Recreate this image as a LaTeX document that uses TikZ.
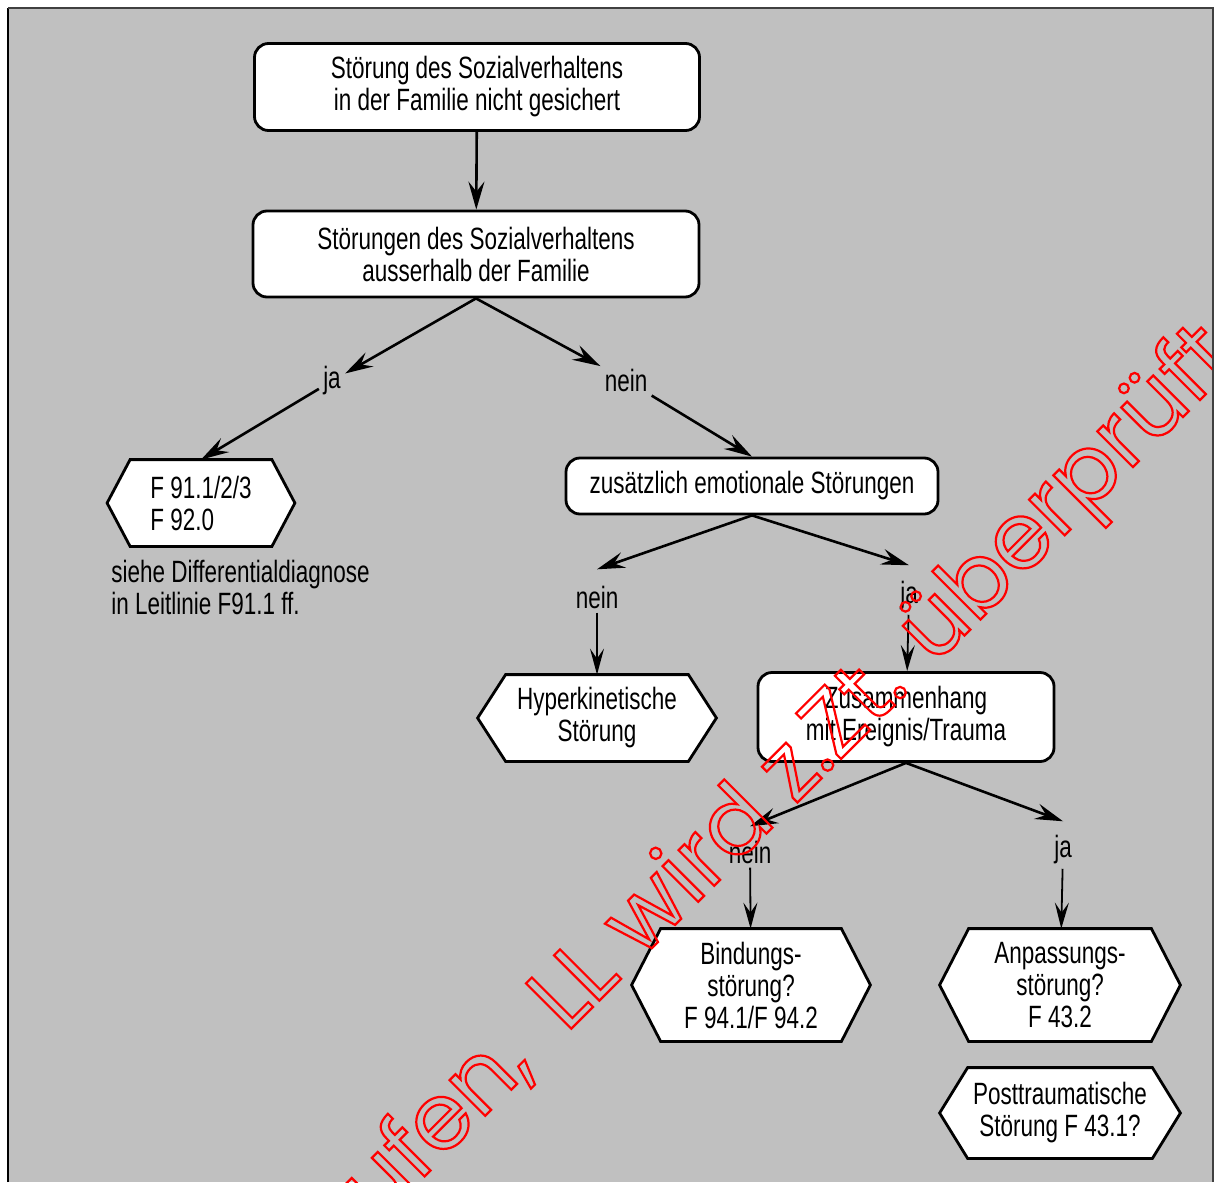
\documentclass[tikz,border=0pt]{standalone}
\usepackage{fontspec}
\setmainfont[FakeStretch=0.73]{Liberation Sans}
\newfontfamily\wmfont{Poppins}
\usetikzlibrary{arrows.meta}
\pgfdeclarelayer{bg}
\pgfdeclarelayer{shapes}
\pgfsetlayers{bg,shapes,main}
\definecolor{bggrey}{RGB}{192,192,192}
\newcommand\outl[1]{\special{pdf:literal direct 1 Tr 1.1 w}#1\special{pdf:literal direct 0 Tr}}
\newcommand\hexoutline[2]{%
  \begin{pgfonlayer}{shapes}
    \filldraw[hexline] (#1.west) -- ([xshift=#2]#1.north west) -- ([xshift=-#2]#1.north east)
      -- (#1.east) -- ([xshift=-#2]#1.south east) -- ([xshift=#2]#1.south west) -- cycle;
  \end{pgfonlayer}}
\begin{document}
\begin{tikzpicture}[x=0.5pt,y=-0.5pt,
  every node/.style={font=\fontsize{15.4pt}{16pt}\selectfont},
  box/.style={draw, line width=1.4pt, fill=white, rounded corners=7pt, align=center, inner sep=0pt},
  hexn/.style={inner sep=0pt, align=center},
  hexline/.style={draw=black, fill=white, line width=1.4pt, line join=miter},
  lbl/.style={inner sep=2pt},
  arr/.style={line width=1.3pt, -{Stealth[length=14pt,width=8pt,inset=5pt]}},
  arrthin/.style={line width=0.9pt, -{Stealth[length=13pt,width=7pt,inset=5pt]}},
  wm/.style={font=\wmfont\fontsize{46pt}{50pt}\selectfont, text=red, inner sep=0pt}]
\useasboundingbox (0,0) rectangle (1218,1182);
\begin{pgfonlayer}{bg}
  \fill[white] (0,0) rectangle (1218,1182);
  \fill[bggrey] (9,9) rectangle (1212,1182);
  \draw[line width=1.3pt, black] (8,1182) -- (8,8);
  \draw[line width=1pt, black!75] (8,8) -- (1213,8) -- (1213,1182);
\end{pgfonlayer}

\node[box, minimum width=222.5pt, minimum height=43.5pt] (n1) at (477,87) {Störung des Sozialverhaltens\\in der Familie nicht gesichert};
\node[box, minimum width=223pt, minimum height=43pt] (n2) at (476,254) {Störungen des Sozialverhaltens\\ausserhalb der Familie};
\node[box, minimum width=186pt, minimum height=28pt] (n3) at (752,486) {zusätzlich emotionale Störungen};
\node[box, minimum width=148pt, minimum height=44.5pt] (zus) at (906,717) {Zusammenhang\\mit Ereignis/Trauma};
\node[hexn, minimum width=93.5pt, minimum height=43pt, align=left] (f91) at (201,503) {F 91.1/2/3\\F 92.0};
\node[hexn, minimum width=119pt, minimum height=43pt] (hyp) at (597,718) {Hyperkinetische\\Störung};
\node[hexn, minimum width=119pt, minimum height=56pt] (bind) at (751,985) {Bindungs-\\störung?\\F 94.1/F 94.2};
\node[hexn, minimum width=120pt, minimum height=56pt] (anp) at (1060,985) {Anpassungs-\\störung?\\F 43.2};
\node[hexn, minimum width=120pt, minimum height=45pt] (ptsd) at (1060,1113) {Posttraumatische\\Störung F 43.1?};
\node[anchor=north west, align=left, inner sep=0pt] (note) at (111,560) {siehe Differentialdiagnose\\in Leitlinie F91.1 ff.};

\hexoutline{f91}{11.5pt}
\hexoutline{hyp}{14pt}
\hexoutline{bind}{14.5pt}
\hexoutline{anp}{14.5pt}
\hexoutline{ptsd}{14pt}

\node[lbl] (jaA) at (332,381) {ja};
\node[lbl] (neinA) at (626,380) {nein};
\node[lbl] (neinB) at (597,597) {nein};
\node[lbl] (jaB) at (909,596) {ja};
\node[lbl] (neinC) at (750,852) {nein};
\node[lbl] (jaC) at (1063,850) {ja};

\draw[arr] (n1) -- (n2);
\draw[arr] (n2.south) -- (jaA);
\draw[arr] (jaA) -- (f91.north);
\draw[arr] (n2.south) -- (neinA);
\draw[arr] (neinA) -- (n3.north);
\draw[arr] (n3.south) -- ([yshift=6pt]neinB.north);
\draw[arr] (n3.south) -- ([yshift=6pt]jaB.north);
\draw[arrthin] (neinB) -- (hyp);
\draw[arrthin] (jaB) -- (zus);
\draw[arr] (zus.south) -- ([yshift=5pt]neinC.north);
\draw[arr] (zus.south) -- ([yshift=5pt]jaC.north);
\draw[arrthin] (neinC) -- (bind);
\draw[arrthin] (jaC) -- (anp);

\begin{scope}
  \clip (10,10) rectangle (1212,1182);
  \node[wm, anchor=base west, rotate=45] (wm1) at (566,1034) {\outl{LL wird z.Zt. überprüft}};
  \node[wm, anchor=base east, rotate=45] (wm2) at (535,1066) {\outl{ufen,}};
\end{scope}
\end{tikzpicture}
\end{document}
